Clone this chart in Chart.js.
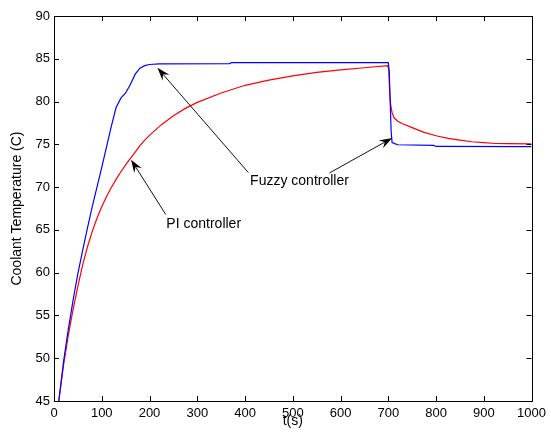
<!DOCTYPE html>
<html>
<head>
<meta charset="utf-8">
<script src="https://cdn.jsdelivr.net/npm/chart.js@4/dist/chart.umd.min.js"></script>
<style>
    body { margin: 0; background: #fff; }
    canvas { display: block; }
</style>
</head>
<body>
<canvas id="chart" width="551" height="444"></canvas>
<script>
// fuzzy controller response (blue)
var fuzzyTime = [10, 20, 30, 40, 50, 60, 70, 80, 90, 100, 110, 120, 130, 140, 150, 160, 170, 180, 190, 200, 220,
    368, 372, 700, 702, 704, 706, 708, 715, 720, 795, 800, 1000];
var fuzzyTemp = [45, 49.6, 53.4, 56.8, 59.9, 62.6, 65.2, 67.7, 70.0, 72.3, 74.7, 77.1, 79.3, 80.4, 81.0, 82.0, 83.2, 83.9, 84.2, 84.33, 84.4,
    84.44, 84.56, 84.56, 83.5, 80.0, 76.5, 75.2, 75.05, 74.95, 74.88, 74.75, 74.73];

// PI controller response (red)
var piTime = [10, 20, 30, 40, 50, 60, 70, 80, 90, 100, 110, 120, 130, 140, 150, 160, 170, 180, 190, 200, 225, 250, 275, 300,
    350, 400, 450, 500, 550, 600, 650, 698, 701, 703, 705, 708, 712, 720, 730, 750, 775, 800, 825, 850, 875, 900, 925, 950, 1000];
var piTemp = [45, 49.2, 52.7, 55.7, 58.4, 60.9, 63.0, 64.8, 66.35, 67.7, 68.9, 69.95, 70.9, 71.8, 72.6, 73.35, 74.1, 74.85, 75.5, 76.05, 77.3, 78.35, 79.2, 79.9,
    81.0, 81.9, 82.5, 83.0, 83.4, 83.7, 83.95, 84.2, 83.8, 81.0, 79.6, 78.7, 78.1, 77.7, 77.4, 76.95, 76.4, 76.0, 75.7, 75.5, 75.3, 75.2, 75.1, 75.08, 75.05];

// annotations (arrows in data units)
var arrowFromT = [407, 576.7, 234];
var arrowFromTemp = [71.7, 71.65, 66.8];
var arrowToT = [216.6, 708.2, 161.4];
var arrowToTemp = [83.94, 75.74, 73.2];
var labelText = ['Fuzzy controller', 'PI controller'];
var labelT = [410.6, 235.3];
var labelTemp = [70.67, 65.71];

var fontFamily = '"Liberation Sans", Arial, sans-serif';

function toPoints(xs, ys) {
    var pts = [];
    for (var i = 0; i < xs.length; i++) {
        pts.push({ x: xs[i], y: ys[i] });
    }
    return pts;
}

function each(arr, fn) {
    for (var i = 0; i < arr.length; i++) fn(arr[i]);
}

function drawArrow(ctx, x1, y1, x2, y2) {
    var ang = Math.atan2(y2 - y1, x2 - x1);
    var len = 13, half = 4.5, notch = 0.65;
    var c = Math.cos(ang), s = Math.sin(ang);
    ctx.beginPath();
    ctx.moveTo(x1, y1);
    ctx.lineTo(x2 - c * len * notch, y2 - s * len * notch);
    ctx.stroke();

    ctx.beginPath();
    ctx.moveTo(x2, y2);
    ctx.lineTo(x2 - c * len - s * half, y2 - s * len + c * half);
    ctx.lineTo(x2 - c * len * notch, y2 - s * len * notch);
    ctx.lineTo(x2 - c * len + s * half, y2 - s * len - c * half);
    ctx.closePath();
    ctx.fill();
}

// box, inward ticks on all sides, arrows and labels
var matlabAxes = {
    id: 'matlabAxes',
    afterDraw: function (chart) {
        var ctx = chart.ctx;
        var area = chart.chartArea;
        var xs = chart.scales.x, ys = chart.scales.y;
        var tl = 5;

        ctx.save();
        ctx.strokeStyle = '#000';
        ctx.fillStyle = '#000';
        ctx.lineWidth = 1;

        ctx.beginPath();
        each(xs.ticks, function (t) {
            var px = Math.round(xs.getPixelForValue(t.value)) + 0.5;
            ctx.moveTo(px, area.bottom); ctx.lineTo(px, area.bottom - tl);
            ctx.moveTo(px, area.top); ctx.lineTo(px, area.top + tl);
        });
        each(ys.ticks, function (t) {
            var py = Math.round(ys.getPixelForValue(t.value)) + 0.5;
            ctx.moveTo(area.left, py); ctx.lineTo(area.left + tl, py);
            ctx.moveTo(area.right, py); ctx.lineTo(area.right - tl, py);
        });
        ctx.stroke();

        ctx.strokeRect(Math.round(area.left) + 0.5, Math.round(area.top) + 0.5,
            Math.round(area.right - area.left), Math.round(area.bottom - area.top));

        ctx.strokeStyle = '#111';
        for (var i = 0; i < arrowFromT.length; i++) {
            drawArrow(ctx,
                xs.getPixelForValue(arrowFromT[i]), ys.getPixelForValue(arrowFromTemp[i]),
                xs.getPixelForValue(arrowToT[i]), ys.getPixelForValue(arrowToTemp[i]));
        }

        ctx.font = '14px ' + fontFamily;
        ctx.textAlign = 'left';
        ctx.textBaseline = 'middle';
        for (var j = 0; j < labelText.length; j++) {
            ctx.fillText(labelText[j], xs.getPixelForValue(labelT[j]), ys.getPixelForValue(labelTemp[j]));
        }
        ctx.restore();
    }
};

var ctx = document.getElementById('chart');
var chart = new Chart(ctx, {
    type: 'line',
    data: {
        datasets: [
            {
                label: 'Fuzzy controller',
                data: toPoints(fuzzyTime, fuzzyTemp),
                borderColor: '#0000ff',
                borderWidth: 1.2,
                pointRadius: 0,
                tension: 0
            },
            {
                label: 'PI controller',
                data: toPoints(piTime, piTemp),
                borderColor: '#ff0000',
                borderWidth: 1.2,
                pointRadius: 0,
                tension: 0
            }
        ]
    },
    options: {
        responsive: false,
        animation: false,
        devicePixelRatio: 1,
        layout: { padding: { top: 16, right: 15, bottom: 0, left: 0 } },
        plugins: {
            legend: { display: false },
            tooltip: { enabled: false }
        },
        scales: {
            x: {
                type: 'linear',
                min: 0,
                max: 1000,
                grid: { display: false, drawTicks: false },
                border: { display: false },
                ticks: {
                    stepSize: 100,
                    maxRotation: 0,
                    padding: 5,
                    color: '#000',
                    font: { size: 13, family: fontFamily },
                    callback: function (v) { return String(v); }
                },
                title: {
                    display: true,
                    text: 't(s)',
                    color: '#000',
                    font: { size: 14, family: fontFamily },
                    padding: { top: 0, bottom: 14 }
                },
                afterFit: function (scale) { scale.height = 43; }
            },
            y: {
                min: 45,
                max: 90,
                grid: { display: false, drawTicks: false },
                border: { display: false },
                ticks: {
                    stepSize: 5,
                    padding: 4,
                    color: '#000',
                    font: { size: 13, family: fontFamily },
                    callback: function (v) { return String(v); }
                },
                title: {
                    display: true,
                    text: 'Coolant Temperature (C)',
                    color: '#000',
                    font: { size: 14, family: fontFamily },
                    padding: { top: 9, bottom: 0 }
                },
                afterFit: function (scale) { scale.width = 54; }
            }
        }
    },
    plugins: [matlabAxes]
});
</script>
</body>
</html>
